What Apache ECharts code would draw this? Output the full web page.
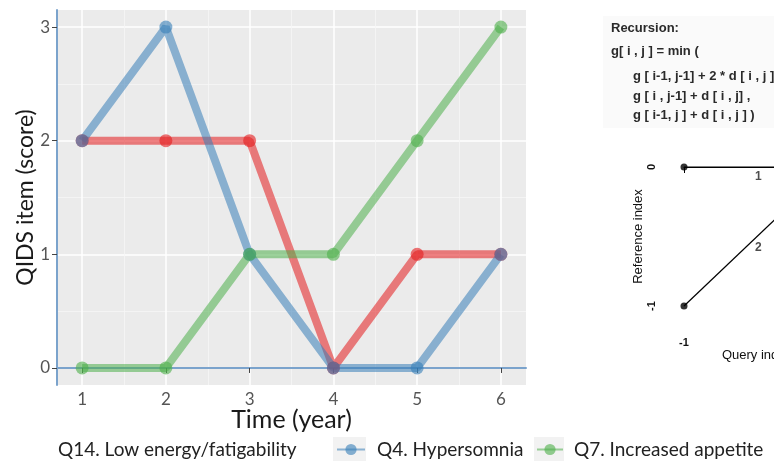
<!DOCTYPE html>
<html><head><meta charset="utf-8">
<script src="https://cdn.jsdelivr.net/npm/echarts@6/dist/echarts.min.js"></script>
<style>html,body{margin:0;padding:0;background:#fff}#c{width:774px;height:465px}</style>
</head><body><div id="c"></div>
<script>
// ---- data (left chart) ----
const years = [1, 2, 3, 4, 5, 6];
const q14 = [2, 2, 2, 0, 1, 1];   // Q14. Low energy/fatigability
const q4  = [2, 3, 1, 0, 0, 1];   // Q4. Hypersomnia
const q7  = [0, 0, 1, 1, 2, 3];   // Q7. Increased appetite
const seriesNames = ['Q14. Low energy/fatigability', 'Q4. Hypersomnia', 'Q7. Increased appetite'];
const xTicks = [1, 2, 3, 4, 5, 6];
const xMinor = [1.5, 2.5, 3.5, 4.5, 5.5];
const yTicks = [0, 1, 2, 3];
const yMinor = [0.5, 1.5, 2.5];
// ---- data (step pattern diagram) ----
const stepNodes = [[-1, 0], [-1, -1], [0, -1], [0, 0]];
const stepSeg1 = [[-1, 0], [0, 0]];
const stepSeg2 = [[-1, -1], [0, 0]];
const stepSeg3 = [[0, -1], [0, 0]];
const stepLabels = [{ value: [-0.49, -0.07], name: '1' }, { value: [-0.49, -0.58], name: '2' }];
const recursionLines = [
  'Recursion:',
  'g[ i , j ] = min (',
  'g [ i-1, j-1] + 2 * d [ i , j ] ,',
  'g [ i , j-1] + d [ i , j] ,',
  'g [ i-1, j ] + d [ i , j ] )'
];

const pairs = arr => years.map((x, i) => [x, arr[i]]);
const cols = ['#E41A1C', '#377EB8', '#4DAF4A'];
const FONT = 'Lato';
const RFONT = 'bold 13px "Liberation Sans"';
const DFONT = 'Liberation Sans';

function mkSeries(name, arr, col) {
  return {
    name, type: 'line', data: pairs(arr), xAxisIndex: 0, yAxisIndex: 0,
    symbol: 'circle', symbolSize: 13,
    lineStyle: { color: col, width: 8, opacity: 0.55 },
    itemStyle: { color: col, opacity: 0.6 },
    emphasis: { disabled: true }, animation: false, z: 3
  };
}

const chart = echarts.init(document.getElementById('c'), null, { renderer: 'canvas' });
chart.setOption({
  animation: false,
  backgroundColor: '#ffffff',
  textStyle: { fontFamily: FONT },
  grid: [
    { left: 57, top: 10, width: 469, height: 375, show: true, backgroundColor: '#ebebeb', borderWidth: 0, outerBoundsMode: 'none', containLabel: false },
    { left: 684, top: 167, width: 146, height: 139, show: false, outerBoundsMode: 'none', containLabel: false }
  ],
  xAxis: [
    {
      gridIndex: 0, type: 'value', min: 0.7, max: 6.3,
      name: 'Time (year)', nameLocation: 'middle', nameGap: 22, nameMoveOverlap: false,
      nameTextStyle: { fontFamily: FONT, fontSize: 25, color: '#1a1a1a' },
      axisLine: { show: true, lineStyle: { color: '#7ba3cc', width: 2 } },
      axisTick: { show: true, length: 5, lineStyle: { color: '#444', width: 1 }, customValues: xTicks },
      axisLabel: { fontFamily: FONT, fontSize: 17, color: '#555', margin: 6, customValues: xTicks },
      splitLine: { show: true, lineStyle: { color: '#ffffff', width: 1.5 } }
    },
    {
      gridIndex: 0, type: 'value', min: 0.7, max: 6.3, position: 'bottom',
      axisLine: { show: false }, axisLabel: { show: false },
      axisTick: { show: false, customValues: xMinor },
      splitLine: { show: true, lineStyle: { color: '#f6f6f6', width: 0.8 } }
    },
    {
      gridIndex: 1, type: 'value', min: -1, max: 0, interval: 1, offset: 16,
      name: 'Query index', nameLocation: 'middle', nameGap: 24,
      nameTextStyle: { fontFamily: DFONT, fontSize: 13, color: '#111' },
      axisLine: { show: true, lineStyle: { color: '#000', width: 1 } },
      axisTick: { show: true, length: 6, lineStyle: { color: '#000', width: 1 } },
      axisLabel: { fontFamily: DFONT, fontSize: 11, color: '#111', margin: 15, fontWeight: 'bold' },
      splitLine: { show: false }
    }
  ],
  yAxis: [
    {
      gridIndex: 0, type: 'value', min: -0.15, max: 3.15,
      name: 'QIDS item (score)', nameLocation: 'middle', nameGap: 20, nameMoveOverlap: false,
      nameTextStyle: { fontFamily: FONT, fontSize: 23, color: '#1a1a1a' },
      axisLine: { show: true, lineStyle: { color: '#7ba3cc', width: 2 } },
      axisTick: { show: true, length: 5, lineStyle: { color: '#444', width: 1 }, customValues: yTicks },
      axisLabel: { fontFamily: FONT, fontSize: 17, color: '#555', margin: 7, customValues: yTicks },
      splitLine: { show: true, lineStyle: { color: '#ffffff', width: 1.5 } }
    },
    {
      gridIndex: 0, type: 'value', min: -0.15, max: 3.15, position: 'left',
      axisLine: { show: false }, axisLabel: { show: false },
      axisTick: { show: false, customValues: yMinor },
      splitLine: { show: true, lineStyle: { color: '#f6f6f6', width: 0.8 } }
    },
    {
      gridIndex: 1, type: 'value', min: -1, max: 0, interval: 1, offset: 15,
      name: 'Reference index', nameLocation: 'middle', nameGap: 22,
      nameTextStyle: { fontFamily: DFONT, fontSize: 13, color: '#111' },
      axisLine: { show: true, lineStyle: { color: '#000', width: 1 } },
      axisTick: { show: true, length: 6, lineStyle: { color: '#000', width: 1 } },
      axisLabel: { fontFamily: DFONT, fontSize: 11, color: '#111', margin: 12, rotate: 90, fontWeight: 'bold' },
      splitLine: { show: false }
    }
  ],
  legend: [
    {
      left: 27, top: 440, padding: 0, itemWidth: 25, itemHeight: 14,
      data: [{ name: seriesNames[0], itemStyle: { opacity: 0 }, lineStyle: { opacity: 0 } }],
      textStyle: { fontFamily: FONT, fontSize: 19, color: '#222' }, selectedMode: false
    },
    {
      left: 336, top: 440, padding: 0, itemWidth: 28, itemHeight: 14,
      data: [seriesNames[1]],
      textStyle: { fontFamily: FONT, fontSize: 19, color: '#222', padding: [0, 0, 0, 7] }, selectedMode: false
    },
    {
      left: 536, top: 440, padding: 0, itemWidth: 26, itemHeight: 14,
      data: [seriesNames[2]],
      textStyle: { fontFamily: FONT, fontSize: 19, color: '#222', padding: [0, 0, 0, 6] }, selectedMode: false
    }
  ],
  graphic: [
    { type: 'rect', shape: { x: 603, y: 16, width: 171, height: 112 }, style: { fill: '#fafafa' }, z: -10, silent: true },
    { type: 'rect', shape: { x: 333, y: 437, width: 33, height: 24 }, style: { fill: '#f2f2f2' }, z: -10, silent: true },
    { type: 'rect', shape: { x: 534, y: 437, width: 30, height: 24 }, style: { fill: '#f2f2f2' }, z: -10, silent: true },
    { type: 'text', left: 611, top: 22, style: { text: recursionLines[0], font: RFONT, fill: '#2a2a2a' } },
    { type: 'text', left: 611, top: 45, style: { text: recursionLines[1], font: RFONT, fill: '#2a2a2a' } },
    { type: 'text', left: 633, top: 70, style: { text: recursionLines[2], font: RFONT, fill: '#2a2a2a' } },
    { type: 'text', left: 633, top: 90, style: { text: recursionLines[3], font: RFONT, fill: '#2a2a2a' } },
    { type: 'text', left: 633, top: 109, style: { text: recursionLines[4], font: RFONT, fill: '#2a2a2a' } }
  ],
  series: [
    mkSeries(seriesNames[0], q14, cols[0]),
    mkSeries(seriesNames[1], q4, cols[1]),
    mkSeries(seriesNames[2], q7, cols[2]),
    {
      type: 'line', xAxisIndex: 2, yAxisIndex: 2, data: stepSeg1, symbol: 'none',
      lineStyle: { color: '#000', width: 1.2 }, silent: true, clip: false
    },
    {
      type: 'line', xAxisIndex: 2, yAxisIndex: 2, data: stepSeg2, symbol: 'none',
      lineStyle: { color: '#000', width: 1.2 }, silent: true, clip: false
    },
    {
      type: 'line', xAxisIndex: 2, yAxisIndex: 2, data: stepSeg3, symbol: 'none',
      lineStyle: { color: '#000', width: 1.2 }, silent: true, clip: false
    },
    {
      type: 'scatter', xAxisIndex: 2, yAxisIndex: 2, data: stepNodes, symbol: 'circle', symbolSize: 7,
      itemStyle: { color: '#000' }, silent: true, clip: false
    },
    {
      type: 'scatter', xAxisIndex: 2, yAxisIndex: 2, data: stepLabels, symbolSize: 0, silent: true, clip: false,
      label: { show: true, position: 'inside', formatter: '{b}', fontFamily: DFONT, fontSize: 12, fontWeight: 'bold', color: '#222' }
    }
  ]
});
</script>
</body></html>
